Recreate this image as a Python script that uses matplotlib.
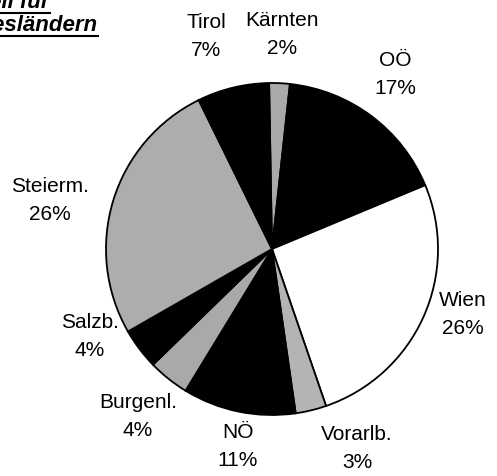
import matplotlib.pyplot as plt

plt.rcParams['font.family'] = ['Liberation Sans', 'DejaVu Sans']

# Anteile der Bundesländer (im Uhrzeigersinn ab oben)
regions = ['Kärnten', 'OÖ', 'Wien', 'Vorarlb.', 'NÖ', 'Burgenl.', 'Salzb.', 'Steierm.', 'Tirol']
shares = [2, 17, 26, 3, 11, 4, 4, 26, 7]
fills = ['#a9a9a9', 'black', 'white', '#b4b4b4', 'black', '#a9a9a9', 'black', '#adadad', 'black']

# label centres in pixels (x, y from top)
label_pos = [(282, 20), (395, 60), (463, 300), (357, 435), (238, 432),
             (138, 403), (90, 322), (50, 187), (206, 22)]

W, H = 497, 476
fig = plt.figure(figsize=(W / 100, H / 100), dpi=100)
ax = fig.add_axes([0, 0, 1, 1])

ax.pie(shares, colors=fills, startangle=91, counterclock=False,
       center=(272, H - 249), radius=166, frame=True,
       wedgeprops=dict(edgecolor='black', linewidth=1.3))
ax.set_xlim(0, W)
ax.set_ylim(0, H)
ax.set_aspect('equal')
ax.axis('off')

for name, val, (px, py) in zip(regions, shares, label_pos):
    ax.text(px, H - py, name, ha='center', va='center', fontsize=15)
    ax.text(px, H - py - 28, f'{val}%', ha='center', va='center', fontsize=15)

# Titel, links oben abgeschnitten
ax.text(50, H - 8, 'Anteil für', ha='right', va='baseline', fontsize=16,
        fontweight='bold', fontstyle='italic')
ax.plot([0, 50], [H - 13, H - 13], color='black', lw=1.5)
ax.text(98, H - 31, 'Bundesländern', ha='right', va='baseline', fontsize=16,
        fontweight='bold', fontstyle='italic')
ax.plot([0, 98], [H - 36, H - 36], color='black', lw=1.5)

fig.savefig('out.png', dpi=100)
